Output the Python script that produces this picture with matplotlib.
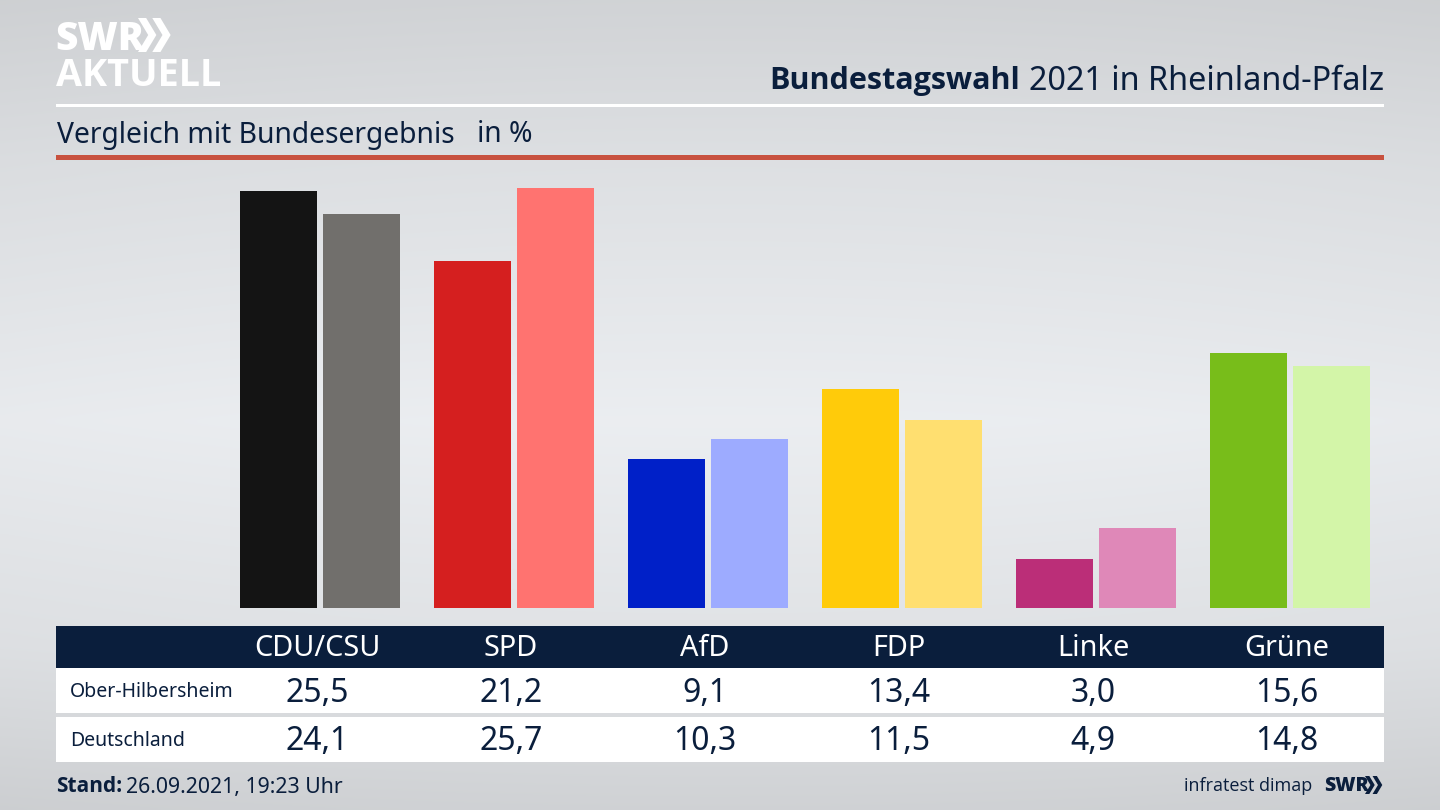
import matplotlib
matplotlib.use("Agg")
import matplotlib.pyplot as plt
import numpy as np
from matplotlib.patches import Polygon, Rectangle

parties = ["CDU/CSU", "SPD", "AfD", "FDP", "Linke", "Grüne"]
ober_hilbersheim = [25.5, 21.2, 9.1, 13.4, 3.0, 15.6]
deutschland = [24.1, 25.7, 10.3, 11.5, 4.9, 14.8]
row_names = ["Ober-Hilbersheim", "Deutschland"]
colors_dark = ["#141414", "#d51f1f", "#0020c8", "#ffcb0a", "#bb2e78", "#78bd1a"]
colors_light = ["#716f6c", "#ff7370", "#9dabff", "#ffdf70", "#df88b8", "#d3f5a8"]

NAVY = "#0a1e3c"
W, H = 1440, 810
plt.rcParams["font.family"] = ["Noto Sans", "DejaVu Sans"]

fig = plt.figure(figsize=(14.4, 8.1), dpi=100)

# background + all the decoration, in pixel coordinates
bg = fig.add_axes([0, 0, 1, 1])
bg.set_xlim(0, W)
bg.set_ylim(H, 0)
bg.axis("off")
yy = np.linspace(0, 1, 200)
xx = np.linspace(0, 1, 200)
shade = np.interp(yy, [0, 0.2, 0.52, 0.8, 1], [0.82, 0.87, 0.925, 0.88, 0.815])[:, None]
shade = shade + 0.012 * (1 - (2 * xx - 1) ** 2)[None, :]
img = np.dstack([shade * 0.985, shade * 0.995, shade * 1.008]).clip(0, 1)
bg.imshow(img, extent=[0, W, H, 0], aspect="auto", interpolation="bicubic")
bg.set_xlim(0, W)
bg.set_ylim(H, 0)


def chevrons(x, y, h, color):
    t = h * 0.24
    w = h * 0.3
    for dx in [0, h * 0.42]:
        bg.add_patch(Polygon([(x + dx, y), (x + dx + t, y), (x + dx + t + w, y + h / 2),
                              (x + dx + t, y + h), (x + dx, y + h), (x + dx + w, y + h / 2)],
                             closed=True, fc=color, ec="none"))


# logo
bg.text(55, 39, "SWR", color="white", fontsize=28, fontweight="black", va="center", ha="left", family="Open Sans")
chevrons(138, 18, 34, "white")
bg.text(56, 76, "AKTUELL", color="white", fontsize=27.2, fontweight="bold", va="center", ha="left", family="Open Sans")

# title
bg.text(1384, 81, "2021 in Rheinland-Pfalz", color=NAVY, fontsize=23.3, va="center", ha="right")
bg.text(769, 81, "Bundestagswahl", color=NAVY, fontsize=22, fontweight="bold", va="center", ha="left", family="Open Sans")
bg.add_patch(Rectangle((56, 104), 1328, 3, fc="white", ec="none"))
bg.text(57, 135, "Vergleich mit Bundesergebnis", color=NAVY, fontsize=20.35, va="center", ha="left")
bg.text(477, 135, "in %", color=NAVY, fontsize=20.35, va="center", ha="left")
bg.add_patch(Rectangle((56, 155), 1328, 5, fc="#c8513f", ec="none"))

# table
bg.add_patch(Rectangle((56, 626), 1328, 42, fc=NAVY, ec="none"))
bg.add_patch(Rectangle((56, 668), 1328, 45, fc="white", ec="none"))
bg.add_patch(Rectangle((56, 717), 1328, 45, fc="white", ec="none"))

# footer
bg.text(56, 787, "Stand:", color=NAVY, fontsize=15, fontweight="bold", va="center", ha="left", family="Open Sans")
bg.text(126, 787, "26.09.2021, 19:23 Uhr", color=NAVY, fontsize=15.3, va="center", ha="left")
bg.text(1312, 786, "infratest dimap", color=NAVY, fontsize=13, va="center", ha="right", family="Open Sans")
bg.text(1324, 786, "SWR", color=NAVY, fontsize=14, fontweight="black", va="center", ha="left", family="Open Sans")
chevrons(1365, 776, 18, NAVY)

# bars: one category step is 194 px, first category sits at x=317
ax = fig.add_axes([56 / W, 1 - 608 / H, 1328 / W, 448 / H])
ax.patch.set_alpha(0)
ax.set_xlim((56 - 317) / 194, (1384 - 317) / 194)
ax.set_ylim(0, 448 / 16.36)
ax.axis("off")
x = np.arange(len(parties))
ax.bar(x - 0.1975, ober_hilbersheim, width=0.395, color=colors_dark)
ax.bar(x + 0.228, deutschland, width=0.396, color=colors_light)


def fmt(v):
    return f"{v:.1f}".replace(".", ",")


for i, name in enumerate(parties):
    c = 317 + 194 * i
    bg.text(c, 648, name, color="white", fontsize=20.8, va="center", ha="center")
    bg.text(c, 693.5, fmt(ober_hilbersheim[i]), color=NAVY, fontsize=23, va="center", ha="center")
    bg.text(c, 742, fmt(deutschland[i]), color=NAVY, fontsize=23, va="center", ha="center")

bg.text(70, 692, row_names[0], color=NAVY, fontsize=14, va="center", ha="left")
bg.text(70, 741, row_names[1], color=NAVY, fontsize=14, va="center", ha="left")

fig.savefig("out.png", dpi=100)
